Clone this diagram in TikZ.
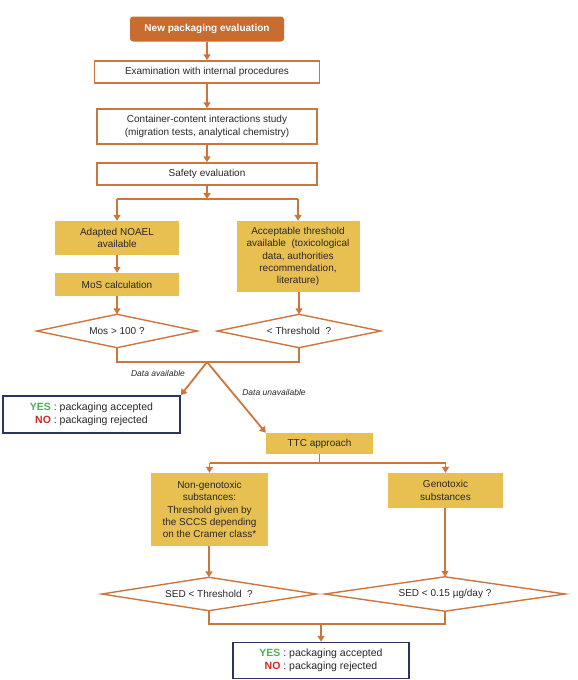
\documentclass[tikz,border=0pt]{standalone}
\usepackage{fontspec}
\setmainfont{Liberation Sans}
\usetikzlibrary{arrows.meta}
\definecolor{brn}{RGB}{200,108,48}
\definecolor{ln}{RGB}{204,118,62}
\definecolor{gold}{RGB}{232,192,82}
\definecolor{navy}{RGB}{42,52,100}
\definecolor{yesg}{RGB}{80,176,80}
\definecolor{nor}{RGB}{215,38,38}
\definecolor{txt}{RGB}{40,40,40}
\tikzset{
  base/.style={inner sep=0pt, text=txt, font=\fontsize{10}{12.4}\selectfont, align=center},
  titlebox/.style={base, fill=brn, rounded corners=3pt, text=white, font=\fontsize{10}{12}\selectfont\bfseries},
  wbox/.style={base, draw=ln, line width=1.5pt, fill=white},
  ybox/.style={base, fill=gold},
  dia/.style={base},
  diaedge/.style={draw=ln, line width=1.4pt, fill=white},
  rbox/.style={base, draw=navy, line width=1.5pt, fill=white, font=\fontsize{10.5}{13.5}\selectfont},
  conn/.style={draw=ln, line width=1.8pt},
  arr/.style={conn, -{Triangle[width=7pt,length=6pt]}},
  lab/.style={base, font=\fontsize{8.5}{10}\selectfont\itshape}
}
\begin{document}
\begin{tikzpicture}[x=1pt,y=-1pt]
\useasboundingbox (0,0) rectangle (578,680);
\node[titlebox, minimum width=154pt, minimum height=25pt] (title) at (207,29) {New packaging evaluation};
\node[wbox, minimum width=225pt, minimum height=22pt] (exam) at (207,72) {Examination with internal procedures};
\node[wbox, minimum width=220pt, minimum height=35pt] (cont) at (207,126.5) {Container-content interactions study\\(migration tests, analytical chemistry)};
\node[wbox, minimum width=220pt, minimum height=22pt] (safe) at (207,174) {Safety evaluation};
\node[ybox, minimum width=124pt, minimum height=34pt] (noael) at (117,238) {Adapted NOAEL\\available};
\node[ybox, minimum width=124pt, minimum height=23pt] (mos) at (117,284.5) {MoS calculation};
\node[ybox, minimum width=123pt, minimum height=71pt] (acc) at (298,256.5) {Acceptable threshold\\available \ (toxicological\\data, authorities\\recommendation,\\literature)};
\node[dia, minimum width=160pt, minimum height=33pt] (d1) at (117,331) {};
\node[dia, minimum width=163pt, minimum height=33pt] (d2) at (299,331) {};
\node[dia, minimum width=214pt, minimum height=33pt] (d3) at (209,594) {};
\node[dia, minimum width=240pt, minimum height=34pt] (d4) at (445,594) {};
\foreach \d in {d1,d2,d3,d4}
  \draw[diaedge] (\d.north) -- (\d.east) -- (\d.south) -- (\d.west) -- cycle;
\node[base] (t1) at (d1) {Mos > 100 ?};
\node[base] (t2) at (d2) {< Threshold \ ?};
\node[base] (t3) at (d3) {SED < Threshold \ ?};
\node[base] (t4) at (d4) {SED < 0.15 µg/day ?};
\node[rbox, minimum width=177pt, minimum height=37pt] (yes1) at (91.5,414.5) {{\bfseries\color{yesg}YES} : packaging accepted\\{\bfseries\color{nor}NO} : packaging rejected};
\node[ybox, minimum width=107pt, minimum height=21pt] (ttc) at (319.5,443.5) {TTC approach};
\node[ybox, minimum width=117pt, minimum height=73pt] (ngen) at (209.5,509.5) {Non-genotoxic\\substances:\\Threshold given by\\the SCCS depending\\on the Cramer class*};
\node[ybox, minimum width=115pt, minimum height=35pt] (gen) at (445.5,490.5) {Genotoxic\\substances};
\node[rbox, minimum width=176pt, minimum height=36pt] (yes2) at (321,660.5) {{\bfseries\color{yesg}YES} : packaging accepted\\{\bfseries\color{nor}NO} : packaging rejected};
% connectors
\draw[arr] (title) -- (exam);
\draw[arr] (exam) -- (cont);
\draw[arr] (cont) -- (safe);
\coordinate (s1) at (207,199);
\coordinate (s1l) at (117,199);
\coordinate (s1r) at (298,199);
\draw[arr] (safe) -- (s1);
\draw[conn] (s1l) -- (s1r);
\draw[arr] (s1l) -- (noael);
\draw[arr] (s1r) -- (acc);
\draw[arr] (noael) -- (mos);
\draw[arr] (mos) -- (d1.north);
\draw[arr] (acc.south -| d2.north) -- (d2.north);
\coordinate (j1) at (207,362);
\draw[conn] (d1.south) |- (j1) -| (d2.south);
\draw[arr] (j1) -- (yes1.north east);
\draw[arr] (j1) -- (ttc.north west);
\node[lab] (la) at (158,373) {Data available};
\node[lab] (lu) at (274,392) {Data unavailable};
\coordinate (s2) at (319.5,463);
\coordinate (s2l) at (209.5,463);
\coordinate (s2r) at (445.5,463);
\draw[conn] (ttc) -- (s2);
\draw[conn] (s2l) -- (s2r);
\draw[arr] (s2l) -- (ngen);
\draw[arr] (s2r) -- (gen);
\draw[arr] (ngen.south -| d3.north) -- (d3.north);
\draw[arr] (gen.south -| d4.north) -- (d4.north);
\coordinate (j2) at (321,624);
\draw[conn] (d3.south) |- (j2) -| (d4.south);
\draw[arr] (j2) -- (yes2);
\end{tikzpicture}
\end{document}
